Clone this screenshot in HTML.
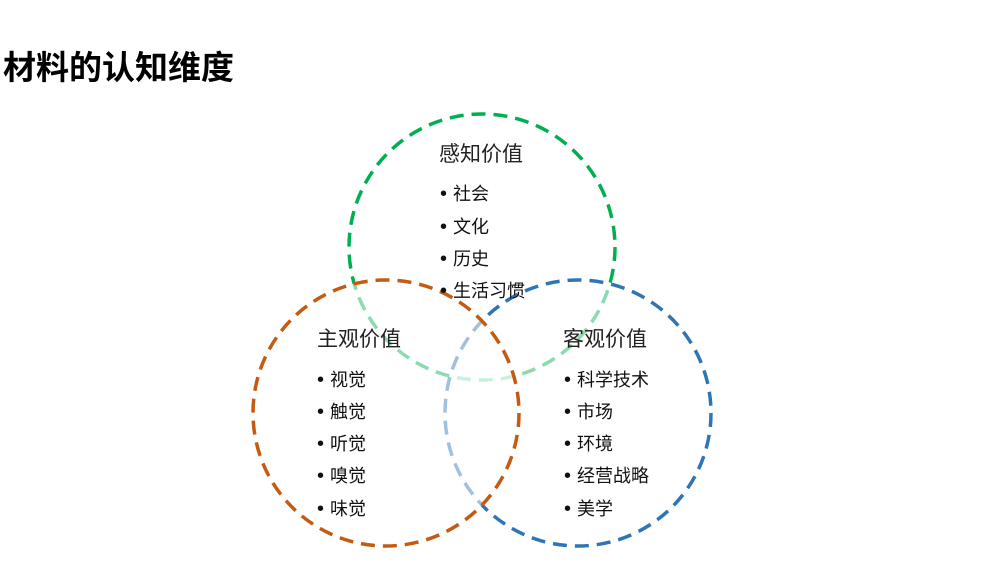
<!DOCTYPE html>
<html><head><meta charset="utf-8"><style>
body{margin:0;width:993px;height:573px;background:#fff;overflow:hidden;position:relative;font-family:"Liberation Sans","Noto Sans CJK SC",sans-serif}
svg{position:absolute;left:0;top:0}
.t{position:absolute;font-size:21px;color:#222}
.b{position:absolute;font-size:18px;color:#111;white-space:nowrap}
.b span{font-size:20px;margin-right:6px}
</style></head><body>
<div style="position:absolute;left:3px;top:41px;font-size:33px;font-weight:bold;color:#000">材料的认知维度</div>
<svg width="993" height="573">
<g stroke-width="3.5" stroke-dasharray="14 8">
<circle cx="482" cy="247" r="133" fill="#fff" fill-opacity="0.6" stroke="#00b050"/>
<circle cx="578" cy="413" r="133" fill="#fff" fill-opacity="0.55" stroke="#2e75b6"/>
<circle cx="386" cy="413" r="133" fill="#fff" fill-opacity="0.55" stroke="#c55a11"/>
</g>
</svg>
<div class="t" style="left:439px;top:138px">感知价值</div>
<div class="b" style="left:440px;top:180px"><span>•</span>社会</div>
<div class="b" style="left:440px;top:213px"><span>•</span>文化</div>
<div class="b" style="left:440px;top:245px"><span>•</span>历史</div>
<div class="b" style="left:440px;top:277px"><span>•</span>生活习惯</div>
<div class="t" style="left:317px;top:323px">主观价值</div>
<div class="b" style="left:317px;top:366px"><span>•</span>视觉</div>
<div class="b" style="left:317px;top:398px"><span>•</span>触觉</div>
<div class="b" style="left:317px;top:430px"><span>•</span>听觉</div>
<div class="b" style="left:317px;top:462px"><span>•</span>嗅觉</div>
<div class="b" style="left:317px;top:495px"><span>•</span>味觉</div>
<div class="t" style="left:563px;top:323px">客观价值</div>
<div class="b" style="left:564px;top:366px"><span>•</span>科学技术</div>
<div class="b" style="left:564px;top:398px"><span>•</span>市场</div>
<div class="b" style="left:564px;top:430px"><span>•</span>环境</div>
<div class="b" style="left:564px;top:462px"><span>•</span>经营战略</div>
<div class="b" style="left:564px;top:495px"><span>•</span>美学</div>
</body></html>
